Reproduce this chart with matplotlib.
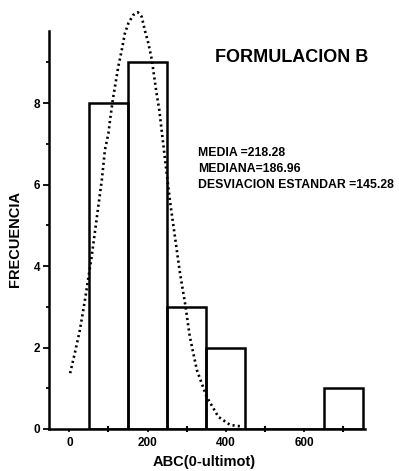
import numpy as np
import matplotlib
matplotlib.use("Agg")
import matplotlib.pyplot as plt

plt.rcParams['font.family'] = ['Liberation Sans', 'DejaVu Sans']
plt.rcParams['font.weight'] = 'bold'
plt.rcParams['axes.labelweight'] = 'bold'

# histograma: centros de clase, frecuencias
centros = [100, 200, 300, 400, 500, 600, 700]
frecuencias = [8, 9, 3, 2, 0, 0, 1]
ancho_clase = 100

# curva normal ajustada
curva_x = [2, 14, 27, 40, 57, 66, 74, 83, 91, 100, 104, 111, 118, 125, 134,
           142, 151, 163, 175, 185, 193, 202, 211, 217, 223, 230, 238, 245,
           257, 270, 283, 296, 308, 326, 351, 381, 411, 441]
curva_y = [1.37, 1.86, 2.43, 3.17, 4.23, 4.88, 5.46, 6.11, 6.85, 7.26, 7.58,
           8.07, 8.48, 8.89, 9.30, 9.71, 9.96, 10.16, 10.23, 10.12, 9.79, 9.47,
           9.06, 8.65, 8.24, 7.83, 7.17, 6.60, 5.62, 4.72, 3.82, 3.08, 2.27,
           1.45, 0.79, 0.30, 0.10, 0.06]

xticks = [0, 200, 400, 600]
xticks_menores = [100, 300, 500, 700]
yticks = [0, 2, 4, 6, 8]
yticks_menores = [1, 3, 5, 7, 9]

titulo = 'FORMULACION B'
estadisticas = ['MEDIA =218.28', 'MEDIANA=186.96', 'DESVIACION ESTANDAR =145.28']

fig = plt.figure(figsize=(3.99, 4.71), dpi=100)
ax = fig.add_axes([0.1228, 0.0892, 0.792, 0.845])

ax.bar(centros, frecuencias, width=ancho_clase, fill=False,
       edgecolor='black', linewidth=1.8)
ax.plot(curva_x, curva_y, color='black', linestyle=(0, (0.8, 1.2)),
        linewidth=1.9, clip_on=False)

ax.set_xlim(-52, 756)
ax.set_ylim(0, 9.77)

ax.spines['top'].set_visible(False)
ax.spines['right'].set_visible(False)
ax.spines['left'].set_linewidth(1.8)
ax.spines['bottom'].set_linewidth(1.8)

ax.set_xticks(xticks)
ax.set_xticks(xticks_menores, minor=True)
ax.set_yticks(yticks)
ax.set_yticks(yticks_menores, minor=True)
ax.tick_params(axis='x', which='major', length=2, width=1.2, labelsize=8.5, pad=4)
ax.tick_params(axis='x', which='minor', direction='inout', length=5, width=1.5)
ax.tick_params(axis='y', which='major', length=4.5, width=1.3, labelsize=8.5, pad=2)
ax.tick_params(axis='y', which='minor', length=2.5, width=1.3)

ax.set_xlabel('ABC(0-ultimot)', fontsize=10.5, fontweight='bold')
ax.set_ylabel('FRECUENCIA', fontsize=10.5, fontweight='bold')
ax.xaxis.set_label_coords((204 - 49) / 316, -(455 - 429) / 398)
ax.yaxis.set_label_coords(-(49 - 22) / 316, (429 - 239) / 398)

fig.text(215 / 399, 1 - 58 / 471, titulo, fontsize=13, ha='left', va='center')
for i, linea in enumerate(estadisticas):
    fig.text(198 / 399, 1 - (153 + 16 * i) / 471, linea, fontsize=8.8,
             ha='left', va='center')

fig.savefig('out.png', dpi=100)
